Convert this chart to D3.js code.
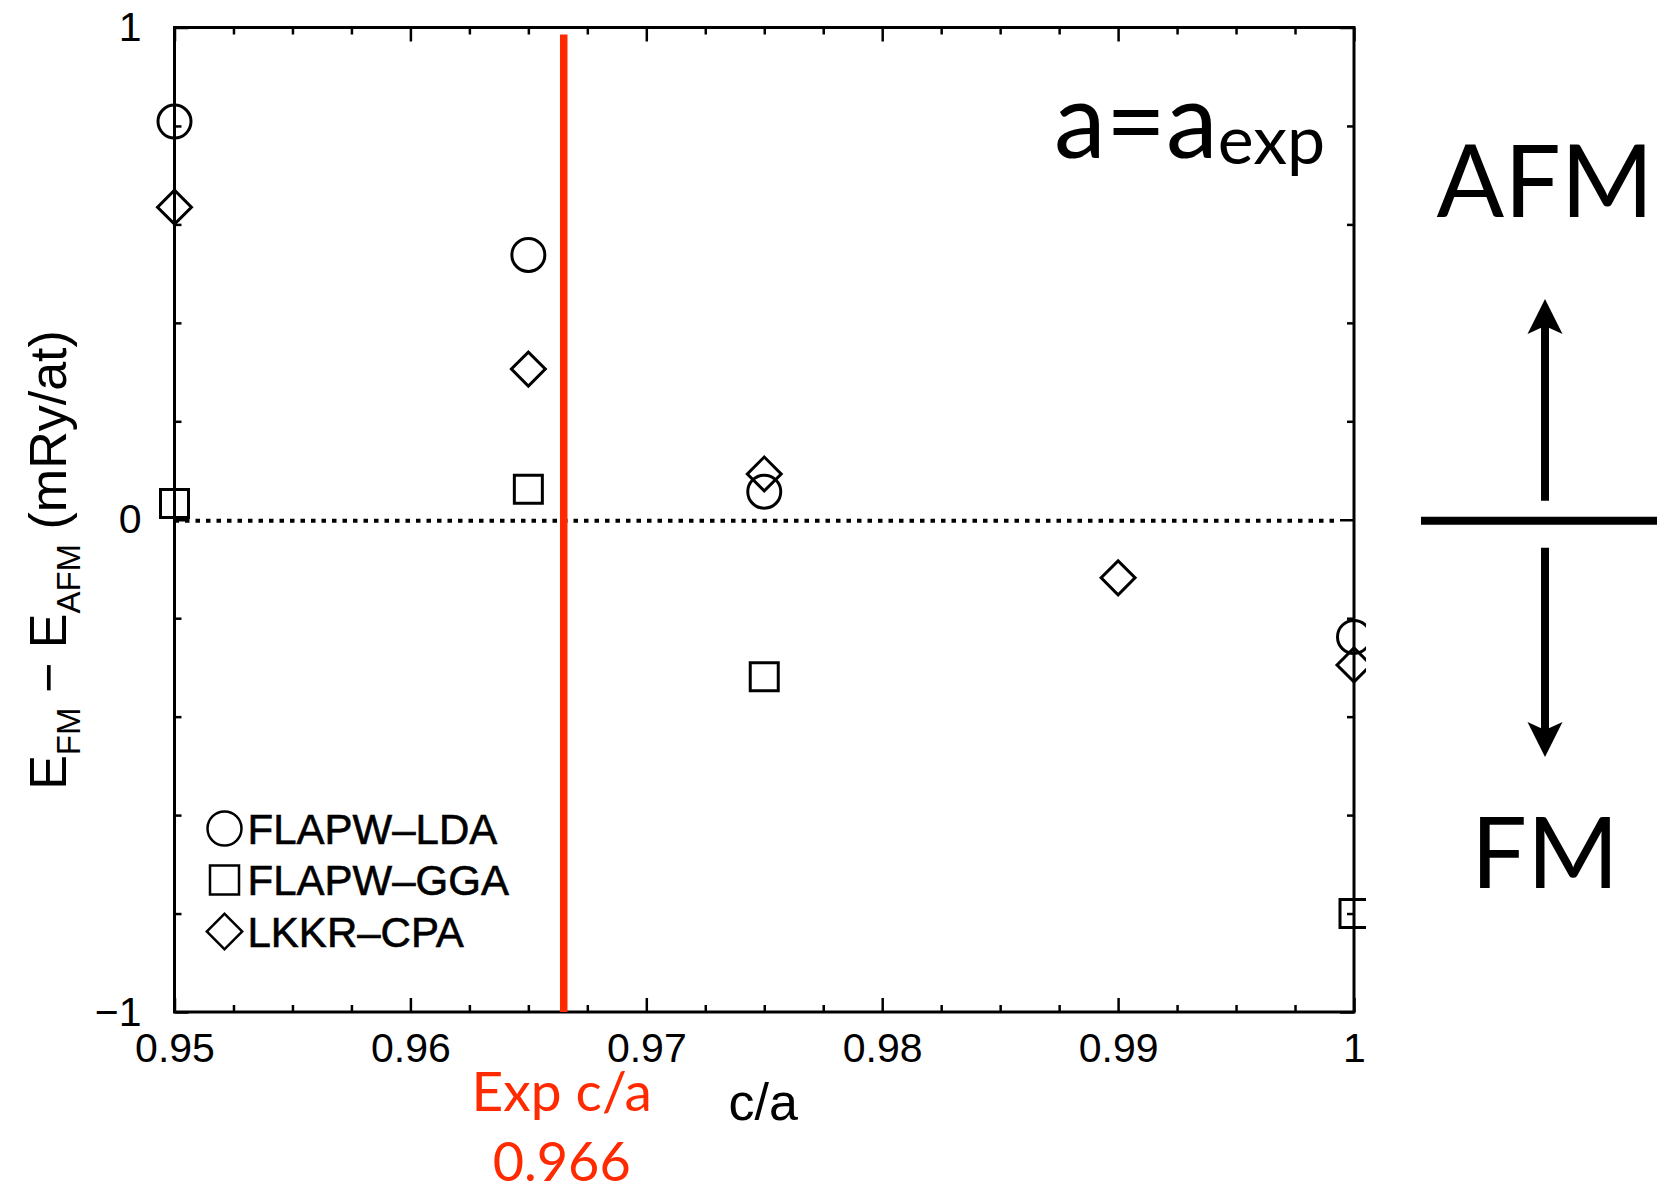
<!DOCTYPE html>
<html>
<head>
<meta charset="utf-8">
<script src="https://cdn.jsdelivr.net/npm/d3@7"></script>
<style>
  body { margin: 0; background: #fff; }
  #chart-container { width: 1657px; height: 1186px; }
</style>
</head>
<body>
<div id="chart-container"></div>
<script>
// data (c/a vs E_FM - E_AFM in mRy/at)
const ldaCa = [0.95, 0.965, 0.975, 1.0];
const ldaE = [0.809, 0.538, 0.057, -0.238];
const ggaCa = [0.95, 0.965, 0.975, 1.0];
const ggaE = [0.033, 0.062, -0.319, -0.8];
const cpaCa = [0.95, 0.965, 0.975, 0.99, 1.0];
const cpaE = [0.635, 0.306, 0.093, -0.118, -0.295];

const seriesNames = ["FLAPW\u2013LDA", "FLAPW\u2013GGA", "LKKR\u2013CPA"];

const xTicks = [0.95, 0.96, 0.97, 0.98, 0.99, 1.0];
const xTickLabels = ["0.95", "0.96", "0.97", "0.98", "0.99", "1"];
const yTicks = [-1, 0, 1];
const yTickLabels = ["\u22121", "0", "1"];

const expCa = 0.9665;
const expCaLabel = "0.966";

// setting dimensions and margins for the chart
const margin = { top: 27.5, right: 303, bottom: 174, left: 174.5 };
const width = 1657 - margin.left - margin.right;
const height = 1186 - margin.top - margin.bottom;

const red = "#ff2a00";
const tickFont = "'Liberation Sans', Arial, Helvetica, sans-serif";
const gillFont = "Lato, 'Open Sans', sans-serif";

// scales
const xScale = d3.scaleLinear().domain([0.95, 1.0]).range([0, width]);
const yScale = d3.scaleLinear().domain([-1, 1]).range([height, 0]);

const xMinor = d3.range(0, 21).map((i) => 0.95 + i * 0.0025).filter((v, i) => i % 4 !== 0);
const yMinor = d3.range(0, 11).map((i) => -1 + i * 0.2).filter((v, i) => i % 5 !== 0);

const root = d3
  .select("#chart-container")
  .append("svg")
  .attr("width", 1657)
  .attr("height", 1186);

const svg = root
  .append("g")
  .attr("transform", `translate(${margin.left}, ${margin.top})`);

// clip so markers sitting on c/a = 1 get cut like in the original
svg
  .append("defs")
  .append("clipPath")
  .attr("id", "plot-clip")
  .append("rect")
  .attr("x", -60)
  .attr("y", -60)
  .attr("width", width + 60 + 12)
  .attr("height", height + 120);

// axes with inward ticks on all four sides
const fmt = (labels, values) => (d) => labels[values.indexOf(d)];

function styleAxis(g) {
  g.select(".domain").remove();
  g.selectAll(".tick line").attr("stroke", "#000").attr("stroke-width", 2.5);
  g.selectAll(".tick text")
    .attr("fill", "#000")
    .style("font-family", tickFont)
    .style("font-size", "41px");
}

svg
  .append("g")
  .attr("transform", `translate(0, ${height})`)
  .call(d3.axisBottom(xScale).tickValues(xTicks).tickSize(-14).tickPadding(21).tickFormat(fmt(xTickLabels, xTicks)))
  .call(styleAxis);
svg
  .append("g")
  .attr("transform", `translate(0, ${height})`)
  .call(d3.axisBottom(xScale).tickValues(xMinor).tickSize(-7).tickFormat(""))
  .call(styleAxis);
svg
  .append("g")
  .call(d3.axisTop(xScale).tickValues(xTicks).tickSize(-14).tickFormat(""))
  .call(styleAxis);
svg
  .append("g")
  .call(d3.axisTop(xScale).tickValues(xMinor).tickSize(-7).tickFormat(""))
  .call(styleAxis);
svg
  .append("g")
  .call(d3.axisLeft(yScale).tickValues(yTicks).tickSize(-14).tickPadding(33).tickFormat(fmt(yTickLabels, yTicks)))
  .call(styleAxis);
svg
  .append("g")
  .call(d3.axisLeft(yScale).tickValues(yMinor).tickSize(-7).tickFormat(""))
  .call(styleAxis);
svg
  .append("g")
  .attr("transform", `translate(${width}, 0)`)
  .call(d3.axisRight(yScale).tickValues(yTicks).tickSize(-14).tickFormat(""))
  .call(styleAxis);
svg
  .append("g")
  .attr("transform", `translate(${width}, 0)`)
  .call(d3.axisRight(yScale).tickValues(yMinor).tickSize(-7).tickFormat(""))
  .call(styleAxis);

// zero line (dotted)
svg
  .append("line")
  .attr("x1", 0)
  .attr("x2", width - 14)
  .attr("y1", yScale(0) + 1)
  .attr("y2", yScale(0) + 1)
  .attr("stroke", "#000")
  .attr("stroke-width", 4)
  .attr("stroke-dasharray", "4.5,6");

// frame
svg
  .append("rect")
  .attr("width", width)
  .attr("height", height)
  .attr("fill", "none")
  .attr("stroke", "#000")
  .attr("stroke-width", 3);

// experimental c/a line
svg
  .append("line")
  .attr("x1", xScale(expCa))
  .attr("x2", xScale(expCa))
  .attr("y1", 7)
  .attr("y2", height)
  .attr("stroke", red)
  .attr("stroke-width", 7.5);

// markers
const circleSym = d3.symbol().type(d3.symbolCircle).size(Math.PI * 16.5 * 16.5);
const squareSym = d3.symbol().type(d3.symbolSquare).size(28 * 28);
const diamondSym = d3.symbol().type(d3.symbolSquare).size(24 * 24);

const markers = svg.append("g").attr("clip-path", "url(#plot-clip)");

function drawSeries(xs, ys, sym, rot) {
  markers
    .selectAll(null)
    .data(xs.map((x, i) => ({ x, y: ys[i] })))
    .join("path")
    .attr("d", sym)
    .attr("transform", (d) => `translate(${xScale(d.x)}, ${yScale(d.y)}) rotate(${rot})`)
    .attr("fill", "none")
    .attr("stroke", "#000")
    .attr("stroke-width", 3);
}

drawSeries(ldaCa, ldaE, circleSym, 0);
drawSeries(ggaCa, ggaE, squareSym, 0);
drawSeries(cpaCa, cpaE, diamondSym, 45);

// legend
const legendSyms = [
  [d3.symbol().type(d3.symbolCircle).size(Math.PI * 17 * 17), 0],
  [d3.symbol().type(d3.symbolSquare).size(29 * 29), 0],
  [d3.symbol().type(d3.symbolSquare).size(25 * 25), 45],
];
const legend = svg.append("g").attr("transform", "translate(50, 801)");
seriesNames.forEach((name, i) => {
  const row = legend.append("g").attr("transform", `translate(0, ${i * 51.5})`);
  row
    .append("path")
    .attr("d", legendSyms[i][0])
    .attr("transform", `rotate(${legendSyms[i][1]})`)
    .attr("fill", "none")
    .attr("stroke", "#000")
    .attr("stroke-width", 2.5);
  row
    .append("text")
    .attr("x", 23)
    .attr("y", 15)
    .attr("stroke", "#000")
    .attr("stroke-width", 0.6)
    .style("font-family", tickFont)
    .style("font-size", "42px")
    .text(name);
});

// axis titles
svg
  .append("text")
  .attr("x", xScale(0.975) - 1)
  .attr("y", height + 108)
  .attr("text-anchor", "middle")
  .style("font-family", tickFont)
  .style("font-size", "52px")
  .text("c/a");

const yTitle = root
  .append("text")
  .attr("transform", "translate(66, 560) rotate(-90)")
  .attr("text-anchor", "middle")
  .style("font-family", tickFont)
  .style("font-size", "52px");
yTitle.append("tspan").text("E");
yTitle.append("tspan").attr("dy", 14).style("font-size", "33px").text("FM");
yTitle.append("tspan").attr("dy", -14).text(" \u2212 E");
yTitle.append("tspan").attr("dy", 14).style("font-size", "33px").text("AFM");
yTitle.append("tspan").attr("dy", -14).text(" (mRy/at)");

// experimental c/a annotation
svg
  .append("text")
  .attr("x", xScale(expCa) - 2)
  .attr("y", height + 99)
  .attr("text-anchor", "middle")
  .attr("fill", red)
  .style("font-family", gillFont)
  .style("font-size", "55px")
  .text("Exp c/a");
svg
  .append("text")
  .attr("x", xScale(expCa) - 2)
  .attr("y", height + 169)
  .attr("text-anchor", "middle")
  .attr("fill", red)
  .style("font-family", gillFont)
  .style("font-size", "54px")
  .text(expCaLabel);

// a = a_exp
const aText = root
  .append("text")
  .attr("x", 1054)
  .attr("y", 158)
  .style("font-family", gillFont)
  .style("font-size", "104px");
aText.append("tspan").text("a=a");
aText.append("tspan").attr("dy", 6).style("font-size", "68px").text("exp");

// AFM / FM side diagram
const sideX = 1545;
const zeroY = margin.top + yScale(0) + 1;

root
  .append("text")
  .attr("x", sideX)
  .attr("y", 217)
  .attr("text-anchor", "middle")
  .style("font-family", gillFont)
  .style("font-size", "100px")
  .text("AFM");
root
  .append("text")
  .attr("x", sideX)
  .attr("y", 888)
  .attr("text-anchor", "middle")
  .style("font-family", gillFont)
  .style("font-size", "99px")
  .text("FM");

root
  .append("line")
  .attr("x1", 1421)
  .attr("x2", 1657)
  .attr("y1", zeroY)
  .attr("y2", zeroY)
  .attr("stroke", "#000")
  .attr("stroke-width", 8);

const headPath = d3.path();
headPath.moveTo(0, 0);
headPath.lineTo(-17.5, 35);
headPath.lineTo(0, 27);
headPath.lineTo(17.5, 35);
headPath.closePath();

// up arrow
root
  .append("line")
  .attr("x1", sideX)
  .attr("x2", sideX)
  .attr("y1", zeroY - 20)
  .attr("y2", 320)
  .attr("stroke", "#000")
  .attr("stroke-width", 8);
root
  .append("path")
  .attr("d", headPath.toString())
  .attr("transform", `translate(${sideX}, 299)`)
  .attr("fill", "#000");

// down arrow
root
  .append("line")
  .attr("x1", sideX)
  .attr("x2", sideX)
  .attr("y1", zeroY + 27)
  .attr("y2", 735)
  .attr("stroke", "#000")
  .attr("stroke-width", 8);
root
  .append("path")
  .attr("d", headPath.toString())
  .attr("transform", `translate(${sideX}, 757) rotate(180)`)
  .attr("fill", "#000");
</script>
</body>
</html>
